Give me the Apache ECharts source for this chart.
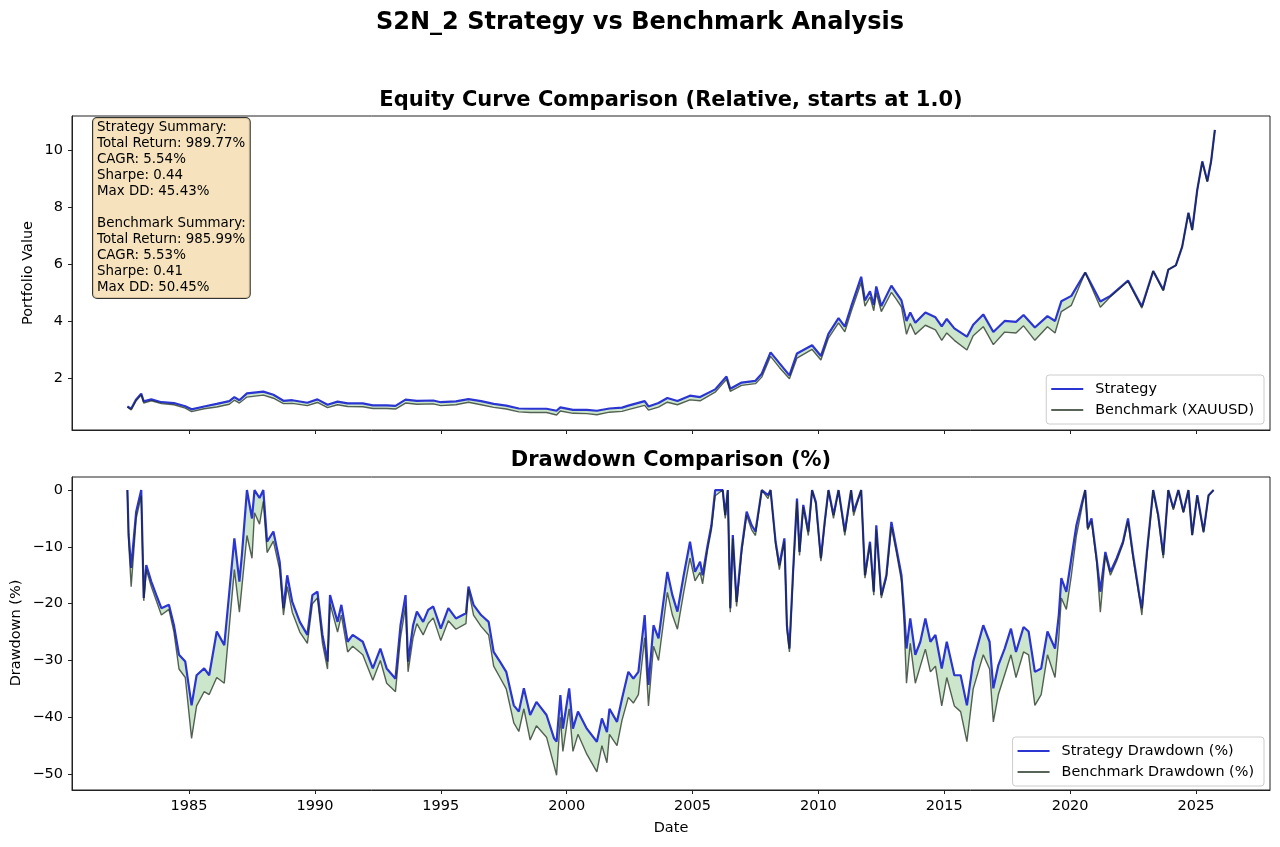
<!DOCTYPE html>
<html>
<head>
<meta charset="utf-8">
<script src="https://cdn.jsdelivr.net/npm/echarts@6/dist/echarts.min.js"></script>
<style>
  html, body { margin: 0; padding: 0; background: #fff; }
  #main { width: 1280px; height: 847px; }
</style>
</head>
<body>
<div id="main"></div>
<script>
// equity curves (relative, start at 1.0)
var eqYears = [
  1982.55, 1982.7, 1982.9, 1983.1, 1983.2, 1983.5, 1983.9, 1984.4, 1984.85, 1985.1,
  1985.6, 1986.1, 1986.6, 1986.8, 1987.0, 1987.3, 1987.95, 1988.35, 1988.75, 1989.1,
  1989.7, 1990.1, 1990.5, 1990.9, 1991.3, 1991.9, 1992.3, 1992.85, 1993.2, 1993.6,
  1994.05, 1994.7, 1995.0, 1995.6, 1996.1, 1996.6, 1997.1, 1997.6, 1998.1, 1998.55,
  1999.2, 1999.6, 1999.75, 2000.25, 2000.8, 2001.2, 2001.7, 2002.2, 2002.45, 2003.1,
  2003.25, 2003.65, 2004.0, 2004.4, 2004.9, 2005.3, 2005.9, 2006.35, 2006.5, 2006.95,
  2007.5, 2007.75, 2008.1, 2008.45, 2008.85, 2009.15, 2009.75, 2010.1, 2010.4, 2010.8,
  2011.05, 2011.3, 2011.7, 2011.85, 2012.05, 2012.2, 2012.3, 2012.5, 2012.9, 2013.1,
  2013.3, 2013.5, 2013.65, 2013.85, 2014.25, 2014.65, 2014.9, 2015.1, 2015.4, 2015.9,
  2016.15, 2016.55, 2016.95, 2017.4, 2017.85, 2018.15, 2018.6, 2019.1, 2019.4, 2019.65,
  2020.05, 2020.6, 2021.2, 2021.6, 2022.3, 2022.85, 2023.3, 2023.7, 2023.9, 2024.2,
  2024.45, 2024.7, 2024.85, 2025.05, 2025.25, 2025.45, 2025.6, 2025.75
];
var eqStrategy = [
  1.00, 0.92, 1.25, 1.45, 1.18, 1.25, 1.15, 1.12, 1.01, 0.90,
  1.00, 1.09, 1.19, 1.33, 1.22, 1.46, 1.52, 1.41, 1.20, 1.22,
  1.13, 1.25, 1.06, 1.17, 1.11, 1.11, 1.04, 1.04, 1.02, 1.24,
  1.20, 1.21, 1.15, 1.18, 1.26, 1.19, 1.09, 1.03, 0.93, 0.92,
  0.92, 0.85, 0.97, 0.88, 0.88, 0.85, 0.93, 0.96, 1.03, 1.19,
  1.00, 1.12, 1.30, 1.19, 1.38, 1.33, 1.60, 2.05, 1.62, 1.84,
  1.90, 2.15, 2.90, 2.52, 2.09, 2.86, 3.15, 2.77, 3.55, 4.10,
  3.80, 4.50, 5.55, 4.72, 5.04, 4.56, 5.21, 4.52, 5.24, 4.98,
  4.72, 4.00, 4.30, 3.94, 4.30, 4.13, 3.81, 4.07, 3.74, 3.45,
  3.87, 4.23, 3.61, 4.00, 3.97, 4.21, 3.77, 4.17, 4.00, 4.69,
  4.88, 5.70, 4.68, 4.88, 5.42, 4.51, 5.75, 5.09, 5.80, 5.95,
  6.60, 7.80, 7.20, 8.60, 9.60, 8.90, 9.60, 10.70
];
var eqBenchmark = [
  0.98, 0.88, 1.20, 1.40, 1.12, 1.20, 1.10, 1.06, 0.94, 0.82,
  0.92, 0.98, 1.08, 1.22, 1.12, 1.33, 1.40, 1.29, 1.10, 1.11,
  1.03, 1.14, 0.96, 1.06, 1.00, 0.99, 0.93, 0.93, 0.91, 1.12,
  1.08, 1.09, 1.03, 1.06, 1.15, 1.06, 0.97, 0.91, 0.81, 0.79,
  0.79, 0.70, 0.84, 0.76, 0.75, 0.71, 0.80, 0.83, 0.89, 1.04,
  0.87, 0.98, 1.15, 1.06, 1.23, 1.20, 1.50, 1.95, 1.53, 1.74,
  1.80, 2.03, 2.76, 2.37, 1.97, 2.70, 3.00, 2.63, 3.40, 3.93,
  3.62, 4.32, 5.35, 4.52, 4.84, 4.36, 4.98, 4.33, 5.00, 4.76,
  4.49, 3.53, 3.91, 3.53, 3.85, 3.69, 3.32, 3.58, 3.32, 2.98,
  3.48, 3.80, 3.17, 3.61, 3.58, 3.83, 3.32, 3.80, 3.58, 4.33,
  4.55, 5.70, 4.48, 4.85, 5.39, 4.45, 5.75, 5.06, 5.80, 5.95,
  6.60, 7.78, 7.18, 8.58, 9.58, 8.88, 9.58, 10.70
];

// drawdowns (%)
var ddYears = [
  1982.55, 1982.6, 1982.7, 1982.9, 1983.1, 1983.2, 1983.3, 1983.5, 1983.7, 1983.9,
  1984.2, 1984.4, 1984.6, 1984.85, 1985.1, 1985.3, 1985.6, 1985.8, 1986.1, 1986.4,
  1986.6, 1986.8, 1987.0, 1987.1, 1987.3, 1987.5, 1987.6, 1987.8, 1987.95, 1988.1,
  1988.35, 1988.6, 1988.75, 1988.9, 1989.1, 1989.4, 1989.7, 1989.9, 1990.1, 1990.3,
  1990.5, 1990.6, 1990.9, 1991.05, 1991.3, 1991.5, 1991.9, 1992.3, 1992.6, 1992.85,
  1993.2, 1993.4, 1993.6, 1993.7, 1993.9, 1994.05, 1994.3, 1994.5, 1994.7, 1995.0,
  1995.3, 1995.6, 1996.0, 1996.1, 1996.3, 1996.6, 1996.9, 1997.1, 1997.35, 1997.6,
  1997.9, 1998.1, 1998.3, 1998.55, 1998.8, 1999.2, 1999.5, 1999.6, 1999.75, 1999.85,
  2000.1, 2000.25, 2000.45, 2000.8, 2001.2, 2001.4, 2001.6, 2001.7, 2002.0, 2002.2,
  2002.45, 2002.65, 2002.85, 2003.1, 2003.25, 2003.45, 2003.65, 2004.0, 2004.2, 2004.4,
  2004.65, 2004.9, 2005.1, 2005.3, 2005.4, 2005.6, 2005.75, 2005.9, 2006.2, 2006.3,
  2006.4, 2006.5, 2006.6, 2006.75, 2006.95, 2007.15, 2007.35, 2007.5, 2007.75, 2008.0,
  2008.1, 2008.3, 2008.45, 2008.65, 2008.75, 2008.85, 2009.0, 2009.15, 2009.25, 2009.4,
  2009.6, 2009.75, 2009.9, 2010.1, 2010.25, 2010.4, 2010.6, 2010.8, 2011.05, 2011.3,
  2011.4, 2011.7, 2011.85, 2012.05, 2012.2, 2012.3, 2012.5, 2012.7, 2012.9, 2013.1,
  2013.3, 2013.4, 2013.5, 2013.65, 2013.85, 2014.05, 2014.25, 2014.45, 2014.65, 2014.9,
  2015.1, 2015.4, 2015.65, 2015.9, 2016.15, 2016.55, 2016.8, 2016.95, 2017.15, 2017.4,
  2017.65, 2017.85, 2018.15, 2018.35, 2018.6, 2018.85, 2019.1, 2019.4, 2019.55, 2019.65,
  2019.85, 2020.05, 2020.25, 2020.45, 2020.6, 2020.7, 2020.85, 2021.05, 2021.2, 2021.4,
  2021.6, 2021.85, 2022.1, 2022.3, 2022.5, 2022.75, 2022.85, 2023.05, 2023.3, 2023.5,
  2023.7, 2023.9, 2024.1, 2024.3, 2024.5, 2024.7, 2024.85, 2025.05, 2025.3, 2025.5,
  2025.7
];
var ddStrategy = [
  0, -7.9, -13.7, -3.8, 0, -19.0, -13.2, -16.1, -18.5, -20.8,
  -20.2, -23.8, -29.0, -30.2, -37.9, -32.6, -31.4, -32.6, -24.9, -27.3,
  -17.9, -8.5, -16.1, -11.4, 0, -5.0, 0, -1.4, 0, -9.1,
  -7.3, -12.6, -20.8, -15.0, -19.7, -23.2, -25.5, -18.5, -17.9, -25.5,
  -30.2, -18.5, -23.2, -20.2, -26.7, -25.5, -26.7, -31.4, -27.9, -31.4,
  -33.2, -23.8, -18.5, -30.2, -23.8, -21.4, -23.2, -21.1, -20.5, -24.4,
  -20.8, -22.6, -21.7, -17.0, -20.2, -22.0, -23.2, -28.5, -30.2, -32.0,
  -37.9, -39.0, -34.9, -39.6, -37.3, -39.6, -43.7, -44.3, -36.1, -42.0,
  -34.9, -42.0, -39.0, -42.0, -44.3, -40.2, -42.6, -38.5, -40.8, -36.7,
  -32.0, -33.2, -32.0, -22.0, -34.3, -23.8, -26.1, -14.4, -18.5, -21.4,
  -15.0, -9.1, -14.4, -12.6, -15.0, -9.7, -6.2, 0, 0, -4.4,
  0, -20.8, -7.9, -19.7, -10.3, -3.8, -6.2, -7.3, 0, -0.9,
  0, -9.1, -13.2, -8.5, -23.8, -27.9, -13.8, -1.5, -10.9, -2.6,
  -7.3, 0, -2.1, -12.0, -5.6, 0, -4.4, 0, -7.3, 0,
  -3.8, 0, -15.0, -9.1, -17.9, -6.2, -18.5, -15.0, -5.6, -10.3,
  -15.0, -20.8, -27.9, -22.6, -29.0, -26.7, -22.6, -26.7, -25.5, -31.4,
  -26.7, -32.6, -32.6, -37.9, -30.2, -23.8, -26.7, -34.9, -30.8, -27.9,
  -24.4, -28.5, -24.1, -24.9, -32.0, -31.4, -24.9, -27.9, -22.0, -15.5,
  -17.9, -12.0, -6.2, -2.6, 0, -6.7, -5.0, -12.0, -17.9, -10.9,
  -14.4, -12.0, -9.1, -5.0, -11.4, -18.5, -20.8, -10.9, 0, -4.4,
  -11.4, 0, -3.2, 0, -3.8, 0, -7.9, -0.9, -7.3, -0.9,
  0
];
var ddBenchmark = [
  0, -9.0, -17.0, -5.0, -1.0, -19.5, -14.0, -17.0, -19.5, -22.0,
  -21.0, -25.0, -31.5, -33.0, -43.7, -38.0, -35.5, -36.0, -33.0, -34.0,
  -24.0, -14.0, -21.5, -17.0, -8.0, -12.0, -4.0, -6.0, -2.0, -11.0,
  -9.0, -14.0, -22.0, -17.0, -21.5, -25.0, -27.0, -20.0, -19.0, -27.0,
  -31.5, -20.0, -25.0, -22.0, -28.5, -27.5, -29.0, -33.5, -30.0, -34.0,
  -35.5, -26.0, -20.5, -32.0, -26.0, -23.5, -25.5, -23.5, -22.5, -26.5,
  -23.0, -24.5, -23.5, -17.5, -22.0, -24.0, -25.5, -31.0, -33.0, -35.0,
  -41.0, -42.5, -38.5, -44.0, -41.5, -43.5, -48.5, -50.2, -40.0, -46.0,
  -38.5, -46.0, -43.0, -46.5, -49.6, -45.0, -48.0, -43.0, -45.0, -40.5,
  -36.5, -37.5, -36.0, -26.0, -38.0, -27.5, -30.0, -18.0, -22.0, -24.5,
  -18.0, -12.0, -16.0, -14.5, -16.5, -10.5, -7.0, -1.0, 0, -5.0,
  0, -21.5, -8.5, -20.5, -11.0, -4.5, -7.0, -8.0, 0, -1.5,
  0, -9.5, -14.0, -9.0, -24.5, -28.5, -14.5, -2.0, -11.5, -3.0,
  -8.0, 0, -2.5, -12.5, -6.0, 0, -5.0, 0, -8.0, 0,
  -4.5, 0, -15.5, -9.5, -18.5, -7.0, -19.0, -15.5, -6.5, -11.0,
  -16.0, -23.0, -34.0, -27.0, -34.0, -31.0, -28.0, -32.0, -31.0, -38.0,
  -33.0, -38.0, -39.0, -44.3, -35.0, -29.0, -31.5, -40.8, -36.0, -32.5,
  -29.0, -33.0, -28.5, -29.0, -37.9, -36.0, -29.0, -33.0, -26.0, -19.0,
  -21.0, -15.0, -8.0, -3.5, 0, -7.0, -5.5, -12.5, -21.5, -11.5,
  -15.0, -12.5, -9.5, -5.5, -12.0, -19.0, -22.0, -11.5, 0, -4.8,
  -12.0, 0, -3.5, 0, -4.0, 0, -8.0, -1.0, -7.5, -1.0,
  0
];

var yearTicks = [1985, 1990, 1995, 2000, 2005, 2010, 2015, 2020, 2025];
var eqTicks = [2, 4, 6, 8, 10];
var ddTicks = [-50, -40, -30, -20, -10, 0];

var summaryLines = [
  'Strategy Summary:',
  'Total Return: 989.77%',
  'CAGR: 5.54%',
  'Sharpe: 0.44',
  'Max DD: 45.43%',
  '',
  'Benchmark Summary:',
  'Total Return: 985.99%',
  'CAGR: 5.53%',
  'Sharpe: 0.41',
  'Max DD: 50.45%'
];

function pairs(xs, ys) {
  return xs.map(function (x, i) { return [x, ys[i]]; });
}

var FONT = 'DejaVu Sans';
var STRAT = '#2a35d2';
var BENCH = 'rgba(25,40,25,0.72)';
var FILL = 'rgba(0,128,0,0.2)';

// polygon between two curves, placed with the axis scales
function fillBetween(xs, hi, lo) {
  return function (params, api) {
    if (params.dataIndex !== 0) return null;
    var pts = [];
    for (var i = 0; i < xs.length; i++) pts.push(api.coord([xs[i], hi[i]]));
    for (var j = xs.length - 1; j >= 0; j--) pts.push(api.coord([xs[j], lo[j]]));
    return { type: 'polygon', shape: { points: pts }, style: { fill: FILL }, silent: true };
  };
}

function minusSign(v) { return String(v).replace('-', '\u2212'); }

function xAxisCfg(gridIndex, showLabels) {
  return {
    type: 'value', gridIndex: gridIndex, min: 1980.35, max: 2027.94,
    axisLine: { show: true, onZero: false, lineStyle: { color: '#222', width: 1 } },
    axisTick: { show: true, inside: false, length: 4, customValues: yearTicks, lineStyle: { color: '#222' } },
    axisLabel: { show: showLabels, customValues: yearTicks, margin: 9, color: '#000', fontSize: 14.5,
      fontFamily: FONT, formatter: function (v) { return String(v); } },
    splitLine: { show: false }
  };
}
function yAxisCfg(gridIndex, min, max, ticks) {
  return {
    type: 'value', gridIndex: gridIndex, min: min, max: max,
    axisLine: { show: true, onZero: false, lineStyle: { color: '#222', width: 1 } },
    axisTick: { show: true, inside: false, length: 4, customValues: ticks, lineStyle: { color: '#222' } },
    axisLabel: { customValues: ticks, margin: 9, color: '#000', fontSize: 14.5, fontFamily: FONT, formatter: minusSign },
    splitLine: { show: false }
  };
}
function legendCfg(names, top) {
  return {
    data: names.map(function (n) { return { name: n, icon: 'rect' }; }),
    orient: 'vertical', right: 16, top: top,
    itemWidth: 32, itemHeight: 2, itemGap: 5,
    padding: [6, 10, 6, 5],
    backgroundColor: 'rgba(255,255,255,0.85)', borderColor: '#cccccc', borderWidth: 1, borderRadius: 3,
    textStyle: { fontSize: 14.4, color: '#000', fontFamily: FONT, lineHeight: 16, padding: [0, 0, 0, 7] }
  };
}

var chart = echarts.init(document.getElementById('main'));

var option = {
  animation: false,
  backgroundColor: '#fff',
  title: {
    text: 'S2N_2 Strategy vs Benchmark Analysis',
    left: 'center', top: 6,
    textStyle: { fontSize: 24, fontWeight: 'bold', color: '#000', fontFamily: FONT }
  },
  grid: [
    { left: 72, top: 116, width: 1198, height: 314, show: true, borderColor: '#222', borderWidth: 1, backgroundColor: 'transparent' },
    { left: 72, top: 477, width: 1198, height: 313, show: true, borderColor: '#222', borderWidth: 1, backgroundColor: 'transparent' }
  ],
  xAxis: [xAxisCfg(0, false), xAxisCfg(1, true)],
  yAxis: [yAxisCfg(0, 0.175, 11.19, eqTicks), yAxisCfg(1, -52.8, 2.3, ddTicks)],
  legend: [
    legendCfg(['Strategy', 'Benchmark (XAUUSD)'], 375),
    legendCfg(['Strategy Drawdown (%)', 'Benchmark Drawdown (%)'], 737)
  ],
  graphic: [
    {
      type: 'text', x: 671, y: 101, z: 10,
      style: { text: 'Equity Curve Comparison (Relative, starts at 1.0)', textAlign: 'center', textVerticalAlign: 'middle',
        font: 'bold 21px "DejaVu Sans"', fill: '#000' }
    },
    {
      type: 'text', x: 671, y: 461, z: 10,
      style: { text: 'Drawdown Comparison (%)', textAlign: 'center', textVerticalAlign: 'middle',
        font: 'bold 21px "DejaVu Sans"', fill: '#000' }
    },
    {
      type: 'text', x: 28, y: 273, rotation: Math.PI / 2, z: 10,
      style: { text: 'Portfolio Value', textAlign: 'center', textVerticalAlign: 'middle',
        font: '14.5px "DejaVu Sans"', fill: '#000' }
    },
    {
      type: 'text', x: 16, y: 633, rotation: Math.PI / 2, z: 10,
      style: { text: 'Drawdown (%)', textAlign: 'center', textVerticalAlign: 'middle',
        font: '14.5px "DejaVu Sans"', fill: '#000' }
    },
    {
      type: 'text', x: 671, y: 828, z: 10,
      style: { text: 'Date', textAlign: 'center', textVerticalAlign: 'middle',
        font: '14.5px "DejaVu Sans"', fill: '#000' }
    },
    {
      type: 'text', x: 93, y: 118, z: 20,
      style: {
        text: summaryLines.join('\n'),
        font: '13.4px "DejaVu Sans"', fill: '#000', lineHeight: 16,
        backgroundColor: 'rgba(245,222,179,0.85)', borderColor: '#333', borderWidth: 1,
        borderRadius: 4, padding: [2, 4, 2, 4]
      }
    }
  ],
  series: [
    // top panel
    { name: 'eqFill', type: 'custom', xAxisIndex: 0, yAxisIndex: 0, clip: true, silent: true, z: 1,
      renderItem: fillBetween(eqYears, eqStrategy, eqBenchmark), data: pairs(eqYears, eqStrategy),
      encode: { x: 0, y: 1 } },
    { name: 'Strategy', type: 'line', xAxisIndex: 0, yAxisIndex: 0, data: pairs(eqYears, eqStrategy),
      symbol: 'none', itemStyle: { color: STRAT }, lineStyle: { color: STRAT, width: 2.2 }, z: 3 },
    { name: 'Benchmark (XAUUSD)', type: 'line', xAxisIndex: 0, yAxisIndex: 0, data: pairs(eqYears, eqBenchmark),
      symbol: 'none', itemStyle: { color: BENCH }, lineStyle: { color: BENCH, width: 1.4 }, z: 4 },

    // bottom panel
    { name: 'ddFill', type: 'custom', xAxisIndex: 1, yAxisIndex: 1, clip: true, silent: true, z: 1,
      renderItem: fillBetween(ddYears, ddStrategy, ddBenchmark), data: pairs(ddYears, ddStrategy),
      encode: { x: 0, y: 1 } },
    { name: 'Strategy Drawdown (%)', type: 'line', xAxisIndex: 1, yAxisIndex: 1, data: pairs(ddYears, ddStrategy),
      symbol: 'none', itemStyle: { color: STRAT }, lineStyle: { color: STRAT, width: 2.2 }, z: 3 },
    { name: 'Benchmark Drawdown (%)', type: 'line', xAxisIndex: 1, yAxisIndex: 1, data: pairs(ddYears, ddBenchmark),
      symbol: 'none', itemStyle: { color: BENCH }, lineStyle: { color: BENCH, width: 1.4 }, z: 4 }
  ]
};

chart.setOption(option);
</script>
</body>
</html>
